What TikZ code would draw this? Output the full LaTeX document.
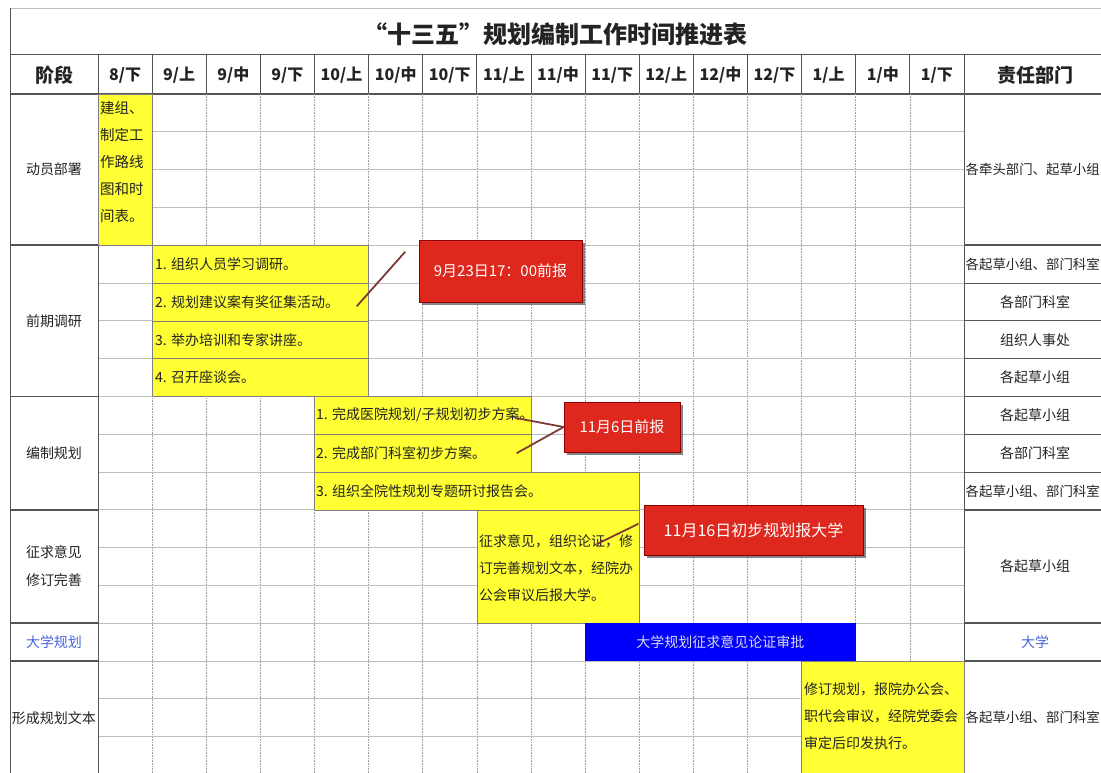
\documentclass[tikz,border=0pt]{standalone}
\usepackage{fontspec}
\setmainfont{Noto Sans CJK SC}
\usetikzlibrary{shadows}
\definecolor{ybox}{RGB}{255,255,51}
\definecolor{rbox}{RGB}{222,40,30}
\definecolor{bbar}{RGB}{0,0,250}
\definecolor{lnk}{RGB}{125,60,55}
\definecolor{txt}{RGB}{35,35,35}
\definecolor{gridc}{RGB}{190,190,190}
\definecolor{dline}{RGB}{85,85,85}
\definecolor{ulab}{RGB}{70,100,220}
\newcommand{\X}[1]{98+54.125*(#1)}
\newcommand{\Y}[1]{94+37.8*(#1)}
\newcommand{\bodyf}{\fontsize{14}{17}\selectfont}
\begin{document}
\begin{tikzpicture}[x=1pt,y=-1pt,
  darkl/.style={draw=dline,line width=0.9pt},
  secl/.style={draw=dline,line width=1.6pt},
  hgrid/.style={draw=gridc,line width=0.8pt},
  vgrid/.style={draw=gray!75,line width=0.6pt,densely dotted},
  ybx/.style={fill=ybox,draw=black!50,line width=0.6pt},
  lbl/.style={inner sep=0pt,text=txt,font=\bodyf},
  wlbl/.style={lbl,anchor=west},
  rlong/.style={lbl,anchor=west,font=\fontsize{13.4}{17}\selectfont},
  hdr/.style={inner sep=0pt,text=txt,font=\fontsize{16}{18}\selectfont\bfseries},
  callout/.style={fill=rbox,draw=red!55!black,line width=0.8pt,text=white,
     font=\fontsize{15}{18}\selectfont,inner sep=0pt,
     drop shadow={shadow xshift=3pt,shadow yshift=-3pt,fill=black!60,opacity=0.8}},
  conn/.style={draw=lnk,line width=1.8pt,line cap=round}]
\useasboundingbox (0,0) rectangle (1101,773);
\clip (0,0) rectangle (1101,773);
\fill[white] (0,0) rectangle (1101,773);

% ---- grid ----
\draw[hgrid] (10,8) -- (1101,8);
\draw[darkl] (10,54) -- (1101,54);
\draw[secl] (10,94) -- (1101,94);
\foreach \i in {0,...,16} \draw[darkl] ({\X{\i}},54) -- ({\X{\i}},94);
\draw[darkl] (10,8) -- (10,773);
\foreach \i in {1,...,15} \draw[vgrid] ({\X{\i}},94) -- ({\X{\i}},773);
\foreach \k in {1,...,17} \draw[hgrid] (98,{\Y{\k}}) -- (964,{\Y{\k}});
\foreach \k in {4,8,11,14,15} {
  \draw[secl] (10,{\Y{\k}}) -- (98,{\Y{\k}});
  \draw[secl] (964,{\Y{\k}}) -- (1101,{\Y{\k}});
}
\foreach \k in {5,6,7,9,10} \draw[darkl] (964,{\Y{\k}}) -- (1101,{\Y{\k}});
\draw[darkl] (98,94) -- (98,773);
\draw[darkl] (964,94) -- (964,773);

% ---- title and header ----
\node[inner sep=0pt,text=txt,font=\fontsize{24}{28}\selectfont\bfseries] (title) at (555,34) {“十三五”规划编制工作时间推进表};
\node[inner sep=0pt,text=txt,font=\fontsize{19}{22}\selectfont\bfseries] (hstage) at (54,75) {阶段};
\node[inner sep=0pt,text=txt,font=\fontsize{19}{22}\selectfont\bfseries] (hdept) at (1035,75) {责任部门};
\foreach \lab [count=\n from 0] in {8/下,9/上,9/中,9/下,10/上,10/中,10/下,11/上,11/中,11/下,12/上,12/中,12/下,1/上,1/中,1/下}
  \node[hdr] (h\n) at ({\X{\n+0.5}},75) {\lab};

% ---- left column ----
\node[lbl] (s1) at (54,{\Y{2}}) {动员部署};
\node[lbl] (s2) at (54,{\Y{6}}) {前期调研};
\node[lbl] (s3) at (54,{\Y{9.5}}) {编制规划};
\node[lbl,align=center,font=\fontsize{14}{28}\selectfont] (s4) at (54,{\Y{12.5}}) {征求意见\\修订完善};
\node[lbl,text=ulab] (s5) at (54,{\Y{14.5}}) {大学规划};
\node[lbl] (s6) at (54,{\Y{16.5}}) {形成规划文本};

% ---- yellow boxes ----
\path[ybx] ({\X{0}},{\Y{0}}) rectangle ({\X{1}},{\Y{4}});
\node[lbl,anchor=north west,align=left,font=\fontsize{14.5}{27}\selectfont] (t0) at (100,101) {建组、\\制定工\\作路线\\图和时\\间表。};
\foreach \k in {4,5,6,7} \path[ybx] ({\X{1}},{\Y{\k}}) rectangle ({\X{5}},{\Y{\k+1}});
\node[wlbl] (t1) at (155,{\Y{4.5}}) {1. 组织人员学习调研。};
\node[wlbl] (t2) at (155,{\Y{5.5}}) {2. 规划建议案有奖征集活动。};
\node[wlbl] (t3) at (155,{\Y{6.5}}) {3. 举办培训和专家讲座。};
\node[wlbl] (t4) at (155,{\Y{7.5}}) {4. 召开座谈会。};
\path[ybx] ({\X{4}},{\Y{8}}) rectangle ({\X{8}},{\Y{9}});
\path[ybx] ({\X{4}},{\Y{9}}) rectangle ({\X{8}},{\Y{10}});
\path[ybx] ({\X{4}},{\Y{10}}) rectangle ({\X{10}},{\Y{11}});
\node[wlbl] (t5) at (316,{\Y{8.5}}) {1. 完成医院规划/子规划初步方案。};
\node[wlbl] (t6) at (316,{\Y{9.5}}) {2. 完成部门科室初步方案。};
\node[wlbl] (t7) at (316,{\Y{10.5}}) {3. 组织全院性规划专题研讨报告会。};
\path[ybx] ({\X{7}},{\Y{11}}) rectangle ({\X{10}},{\Y{14}});
\node[lbl,anchor=west,align=left,font=\fontsize{14}{27}\selectfont] (t8) at (479,{\Y{12.55}}) {征求意见，组织论证，修\\订完善规划文本，经院办\\公会审议后报大学。};
\path[ybx] ({\X{13}},{\Y{15}}) rectangle ({\X{16}},{\Y{18}});
\node[lbl,anchor=west,align=left,font=\fontsize{14}{27}\selectfont] (t9) at (804,{\Y{16.45}}) {修订规划，报院办公会、\\职代会审议，经院党委会\\审定后印发执行。};

% ---- blue bar ----
\path[fill=bbar] ({\X{9}},{\Y{14}}) rectangle ({\X{14}},{\Y{15}});
\node[lbl,text={rgb,255:red,215;green,215;blue,238}] (tb) at ({\X{11.5}},{\Y{14.5}}) {大学规划征求意见论证审批};

% ---- right column ----
\node[rlong] (r1) at (965.5,{\Y{2}}) {各牵头部门、起草小组};
\node[rlong] (r2) at (965.5,{\Y{4.5}}) {各起草小组、部门科室};
\node[lbl] (r3) at (1035,{\Y{5.5}}) {各部门科室};
\node[lbl] (r4) at (1035,{\Y{6.5}}) {组织人事处};
\node[lbl] (r5) at (1035,{\Y{7.5}}) {各起草小组};
\node[lbl] (r6) at (1035,{\Y{8.5}}) {各起草小组};
\node[lbl] (r7) at (1035,{\Y{9.5}}) {各部门科室};
\node[rlong] (r8) at (965.5,{\Y{10.5}}) {各起草小组、部门科室};
\node[lbl] (r9) at (1035,{\Y{12.5}}) {各起草小组};
\node[lbl,text=ulab] (r10) at (1035,{\Y{14.5}}) {大学};
\node[rlong] (r11) at (965.5,{\Y{16.5}}) {各起草小组、部门科室};

% ---- callouts ----
\node[callout,minimum width=163pt,minimum height=62pt] (ca) at (500.5,271) {9月23日17：00前报};
\node[callout,minimum width=116pt,minimum height=50pt] (cb) at (622,427) {11月6日前报};
\node[callout,minimum width=219pt,minimum height=50pt,font=\fontsize{16}{18}\selectfont] (cc) at (753.5,530) {11月16日初步规划报大学};
\coordinate (a1) at (405,252);
\coordinate (a2) at (357,306);
\coordinate (b1) at (516,418);
\coordinate (b2) at (517,453);
\coordinate (c1) at (638,524);
\coordinate (c2) at (597,544);
\draw[conn] (a1) -- (a2);
\draw[conn] (cb.west) -- (b1);
\draw[conn] (cb.west) -- (b2);
\draw[conn] (c1) -- (c2);
\end{tikzpicture}
\end{document}
